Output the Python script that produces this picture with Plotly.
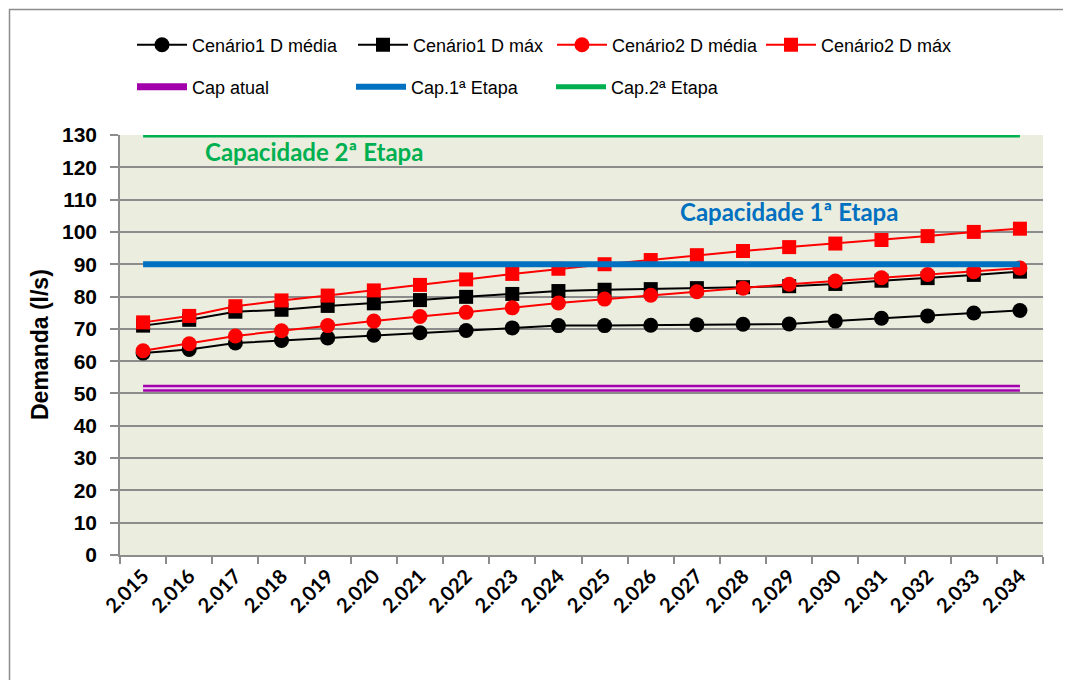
import plotly.graph_objects as go

years = ["2.015", "2.016", "2.017", "2.018", "2.019", "2.020", "2.021", "2.022", "2.023", "2.024",
         "2.025", "2.026", "2.027", "2.028", "2.029", "2.030", "2.031", "2.032", "2.033", "2.034"]
c1_media = [62.5, 63.6, 65.6, 66.4, 67.2, 68.0, 68.8, 69.5, 70.3, 71.0,
            71.0, 71.1, 71.3, 71.4, 71.5, 72.4, 73.3, 74.0, 74.9, 75.7]
c1_max = [71.0, 72.8, 75.3, 75.9, 77.1, 77.9, 78.9, 79.9, 80.8, 81.7,
          82.1, 82.3, 82.6, 82.9, 83.2, 83.9, 84.9, 85.7, 86.7, 87.7]
c2_media = [63.2, 65.4, 67.8, 69.4, 71.0, 72.4, 73.8, 75.1, 76.5, 78.0,
            79.2, 80.4, 81.5, 82.6, 83.8, 84.8, 85.8, 86.8, 87.7, 88.8]
c2_max = [72.0, 74.0, 77.0, 78.8, 80.3, 81.9, 83.6, 85.3, 87.0, 88.6,
          90.0, 91.3, 92.8, 94.1, 95.3, 96.4, 97.5, 98.7, 100.0, 101.0]
cap_atual = [51.6] * len(years)
cap_1 = [90] * len(years)
cap_2 = [130] * len(years)

SANS = "Liberation Sans, Arial, sans-serif"
CAL = "Lato, Carlito, Calibri, sans-serif"

OFF = 8  # page body margin
W, H = 1071 - OFF, 680 - OFF
L, T = 120 - OFF, 135 - OFF
pw, ph = 923, 420
R = W - L - pw
B = H - T - ph


def px_x(p):  # page pixel -> paper x
    return (p - OFF - L) / pw


def px_y(p):  # page pixel -> paper y
    return (T + ph - (p - OFF)) / ph


fig = go.Figure()

fig.add_trace(go.Scatter(x=years, y=c1_media, name="Cenário1 D média", mode="lines+markers",
                         line=dict(color="black", width=2),
                         marker=dict(symbol="circle", size=15, color="black"), legend="legend"))
fig.add_trace(go.Scatter(x=years, y=c1_max, name="Cenário1 D máx", mode="lines+markers",
                         line=dict(color="black", width=2),
                         marker=dict(symbol="square", size=14, color="black"), legend="legend2"))
fig.add_trace(go.Scatter(x=years, y=c2_media, name="Cenário2 D média", mode="lines+markers",
                         line=dict(color="#FF0000", width=2),
                         marker=dict(symbol="circle", size=15, color="#FF0000"), legend="legend3"))
fig.add_trace(go.Scatter(x=years, y=c2_max, name="Cenário2 D máx", mode="lines+markers",
                         line=dict(color="#FF0000", width=2),
                         marker=dict(symbol="square", size=14, color="#FF0000"), legend="legend4"))
fig.add_trace(go.Scatter(x=years, y=cap_atual, name="Cap atual", mode="lines",
                         line=dict(color="#A100AA", width=7), legend="legend5"))
fig.add_trace(go.Scatter(x=years, y=cap_atual, name="Cap atual", mode="lines", showlegend=False,
                         line=dict(color="#F0D0F2", width=2), hoverinfo="skip"))
fig.add_trace(go.Scatter(x=years, y=cap_1, name="Cap.1ª Etapa", mode="lines",
                         line=dict(color="#0070C0", width=6), legend="legend6"))
fig.add_trace(go.Scatter(x=years, y=cap_2, name="Cap.2ª Etapa", mode="lines",
                         line=dict(color="#00B050", width=5), legend="legend7"))

fig.add_annotation(x=3.7, y=124.8, xref="x", yref="y", text="<b>Capacidade 2ª Etapa</b>",
                   showarrow=False, font=dict(family=CAL, size=24, color="#00B050"))
fig.add_annotation(x=14.0, y=106.2, xref="x", yref="y", text="<b>Capacidade 1ª Etapa</b>",
                   showarrow=False, font=dict(family=CAL, size=24, color="#0070C0"))
fig.add_annotation(x=px_x(40), y=px_y(345), xref="paper", yref="paper", text="<b>Demanda (l/s)</b>",
                   textangle=-90, showarrow=False, xanchor="center", yanchor="middle",
                   font=dict(family=SANS, size=23, color="black"))

fig.add_shape(type="rect", xref="paper", yref="paper",
              x0=px_x(9.5), x1=px_x(1100), y0=px_y(9.5), y1=px_y(720),
              line=dict(color="#8C8C8C", width=1.5), fillcolor="rgba(0,0,0,0)", layer="below")


def leg(px, py):
    return dict(orientation="h", x=px_x(px - 3), y=px_y(py), xanchor="left", yanchor="middle",
                font=dict(family=SANS, size=18, color="black"), itemwidth=50,
                bgcolor="rgba(0,0,0,0)")


fig.update_layout(
    width=W, height=H,
    margin=dict(l=L, r=R, t=T, b=B),
    paper_bgcolor="white",
    plot_bgcolor="#EBEEDE",
    font=dict(family=SANS, color="black"),
    legend=leg(135, 45),
    legend2=leg(356, 45),
    legend3=leg(555, 45),
    legend4=leg(764, 45),
    legend5=leg(135, 87),
    legend6=leg(354, 87),
    legend7=leg(554, 87),
    xaxis=dict(type="category", range=[-0.5, 19.5], tickson="boundaries",
               ticks="outside", ticklen=7, tickcolor="#8C8C8C", tickwidth=1.5,
               showline=True, linecolor="#8C8C8C", linewidth=1.5, showgrid=False,
               tickangle=-45, tickfont=dict(family=CAL, size=20, color="black", weight="bold")),
    yaxis=dict(range=[0, 130], dtick=10, ticks="outside", ticklen=8, tickcolor="#8C8C8C",
               tickwidth=1.5, showline=True, linecolor="#8C8C8C", linewidth=1.5,
               showgrid=True, gridcolor="#8C8C8C", gridwidth=1.5, zeroline=False,
               tickfont=dict(family=SANS, size=21, color="black", weight="bold"),
               ticklabelstandoff=9),
    showlegend=True,
)

fig.write_html("out.html")
